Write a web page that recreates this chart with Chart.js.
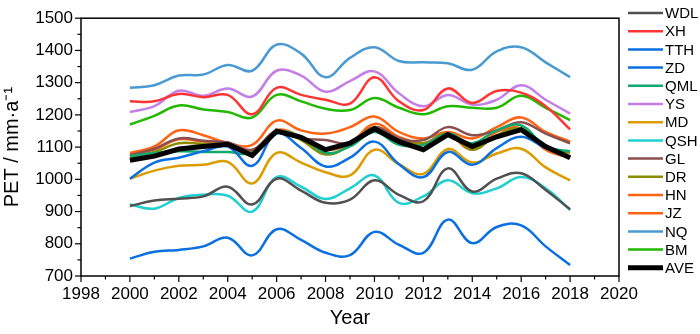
<!DOCTYPE html>
<html>
<head>
<meta charset="utf-8">
<script src="https://cdn.jsdelivr.net/npm/chart.js@4"></script>
<style>
  html, body { margin: 0; padding: 0; background: #fff; }
  #wrap { width: 700px; height: 334px; }
</style>
</head>
<body>
<div id="wrap"><canvas id="pet" width="700" height="334"></canvas></div>
<script>
const years = [2000, 2001, 2002, 2003, 2004, 2005, 2006, 2007, 2008, 2009, 2010, 2011, 2012, 2013, 2014, 2015, 2016, 2017, 2018];

const WDL = [917, 934, 940, 947, 977, 922, 1002, 965, 927, 937, 997, 952, 932, 1034, 962, 1002, 1019, 967, 907];
const XH = [1242, 1242, 1265, 1255, 1262, 1202, 1284, 1262, 1247, 1235, 1317, 1242, 1215, 1282, 1237, 1274, 1269, 1227, 1155];
const TTH = [1002, 1052, 1067, 1087, 1102, 1042, 1142, 1097, 1040, 1067, 1117, 1047, 1007, 1085, 1045, 1097, 1132, 1097, 1067];
const ZD = [754, 775, 781, 792, 819, 764, 845, 812, 772, 765, 837, 797, 772, 875, 802, 852, 857, 792, 734];
const QML = [1072, 1082, 1087, 1085, 1085, 1082, 1145, 1132, 1082, 1102, 1147, 1107, 1107, 1142, 1112, 1152, 1167, 1102, 1087];
const YS = [1209, 1227, 1275, 1259, 1282, 1257, 1337, 1322, 1272, 1305, 1335, 1267, 1227, 1262, 1232, 1247, 1292, 1247, 1204];
const MD = [1002, 1027, 1042, 1045, 1054, 987, 1082, 1052, 1022, 1012, 1092, 1047, 1017, 1094, 1052, 1080, 1095, 1037, 997];
const QSH = [922, 909, 942, 952, 949, 900, 1007, 977, 939, 972, 1012, 927, 947, 997, 957, 972, 1007, 972, 905];
const GL = [1075, 1095, 1127, 1120, 1114, 1092, 1150, 1127, 1122, 1112, 1162, 1127, 1122, 1162, 1137, 1152, 1177, 1142, 1112];
const DR = [1070, 1085, 1112, 1110, 1109, 1087, 1145, 1122, 1077, 1107, 1162, 1122, 1112, 1142, 1092, 1137, 1157, 1102, 1082];
const HN = [1077, 1092, 1124, 1117, 1114, 1082, 1152, 1132, 1092, 1112, 1172, 1132, 1112, 1137, 1092, 1147, 1157, 1092, 1067];
const JZ = [1082, 1102, 1152, 1137, 1112, 1107, 1182, 1152, 1142, 1162, 1195, 1147, 1127, 1147, 1127, 1162, 1192, 1147, 1117];
const NQ = [1284, 1292, 1322, 1325, 1355, 1337, 1418, 1390, 1317, 1377, 1410, 1367, 1363, 1360, 1340, 1397, 1410, 1363, 1317];
const BM = [1170, 1197, 1229, 1217, 1209, 1192, 1262, 1242, 1219, 1215, 1252, 1222, 1202, 1227, 1222, 1222, 1259, 1222, 1184];
const AVE = [1059, 1072, 1094, 1102, 1109, 1074, 1150, 1130, 1092, 1112, 1157, 1117, 1092, 1139, 1102, 1132, 1154, 1102, 1067];

const seriesNames = ["WDL", "XH", "TTH", "ZD", "QML", "YS", "MD", "QSH", "GL", "DR", "HN", "JZ", "NQ", "BM", "AVE"];
const seriesValues = [WDL, XH, TTH, ZD, QML, YS, MD, QSH, GL, DR, HN, JZ, NQ, BM, AVE];
const seriesColors = ["#505050", "#ff3535", "#0a6fe0", "#0a6fe0", "#12a870", "#c47ee6", "#dc9c00", "#20d0d0",
  "#8a4f4f", "#8c8c00", "#ff6414", "#ff6414", "#4a9ad2", "#22b800", "#000000"];

const FONT = "Arial, 'Liberation Sans', sans-serif";

const datasets = seriesNames.map((name, i) => ({
  label: name,
  data: years.map((yr, j) => ({ x: yr, y: seriesValues[i][j] })),
  borderColor: seriesColors[i],
  borderWidth: name === "AVE" ? 5 : 2.5,
  tension: name === "AVE" ? 0 : 0.4,
  pointRadius: 0,
  fill: false,
  order: name === "AVE" ? -1 : i,
}));

// frame, tick marks and the legend on the right
const frameAndLegend = {
  id: "frameAndLegend",
  afterDraw(chart) {
    const ctx = chart.ctx;
    const a = chart.chartArea;
    const xs = chart.scales.x;
    const ys = chart.scales.y;
    ctx.save();
    ctx.strokeStyle = "#000";
    ctx.lineWidth = 1.5;
    ctx.strokeRect(a.left, a.top, a.right - a.left, a.bottom - a.top);

    ctx.lineWidth = 1.2;
    for (let yr = 1998; yr <= 2020; yr++) {
      const px = xs.getPixelForValue(yr);
      const len = yr % 2 === 0 ? 6 : 3.5;
      ctx.beginPath();
      ctx.moveTo(px, a.bottom);
      ctx.lineTo(px, a.bottom + len);
      ctx.stroke();
    }
    for (let v = 700; v <= 1500; v += 50) {
      const py = ys.getPixelForValue(v);
      const len = v % 100 === 0 ? 6 : 3.5;
      ctx.beginPath();
      ctx.moveTo(a.left, py);
      ctx.lineTo(a.left - len, py);
      ctx.stroke();
    }

    // legend
    ctx.font = "15px " + FONT;
    ctx.textBaseline = "middle";
    ctx.textAlign = "left";
    chart.data.datasets.forEach((ds, i) => {
      const y = 13 + i * 18.2;
      ctx.strokeStyle = ds.borderColor;
      ctx.lineWidth = ds.label === "AVE" ? 5 : 2.5;
      ctx.beginPath();
      ctx.moveTo(628, y);
      ctx.lineTo(663, y);
      ctx.stroke();
      ctx.fillStyle = "#000";
      ctx.fillText(ds.label, 665, y + 1);
    });
    ctx.restore();
  },
};

new Chart(document.getElementById("pet"), {
  type: "line",
  data: { datasets },
  options: {
    responsive: false,
    animation: false,
    devicePixelRatio: 1,
    layout: { padding: { top: 9, right: 81, left: 0, bottom: 0 } },
    plugins: { legend: { display: false }, tooltip: { enabled: false } },
    scales: {
      x: {
        type: "linear",
        min: 1998,
        max: 2020,
        afterFit(s) { s.height = 58; },
        grid: { display: false, drawTicks: false },
        border: { display: false },
        ticks: { stepSize: 2, color: "#000", padding: 8, font: { size: 17, family: FONT }, callback: (v) => String(v) },
        title: { display: true, text: "Year", color: "#000", padding: { top: 6 }, font: { size: 20, family: FONT } },
      },
      y: {
        min: 700,
        max: 1500,
        afterFit(s) { s.width = 81; },
        grid: { display: false, drawTicks: false },
        border: { display: false },
        ticks: { stepSize: 100, color: "#000", padding: 8, font: { size: 17, family: FONT }, callback: (v) => String(v) },
        title: { display: true, text: "PET / mm·a⁻¹", color: "#000", padding: 0, font: { size: 20, family: FONT } },
      },
    },
  },
  plugins: [frameAndLegend],
});
</script>
</body>
</html>
